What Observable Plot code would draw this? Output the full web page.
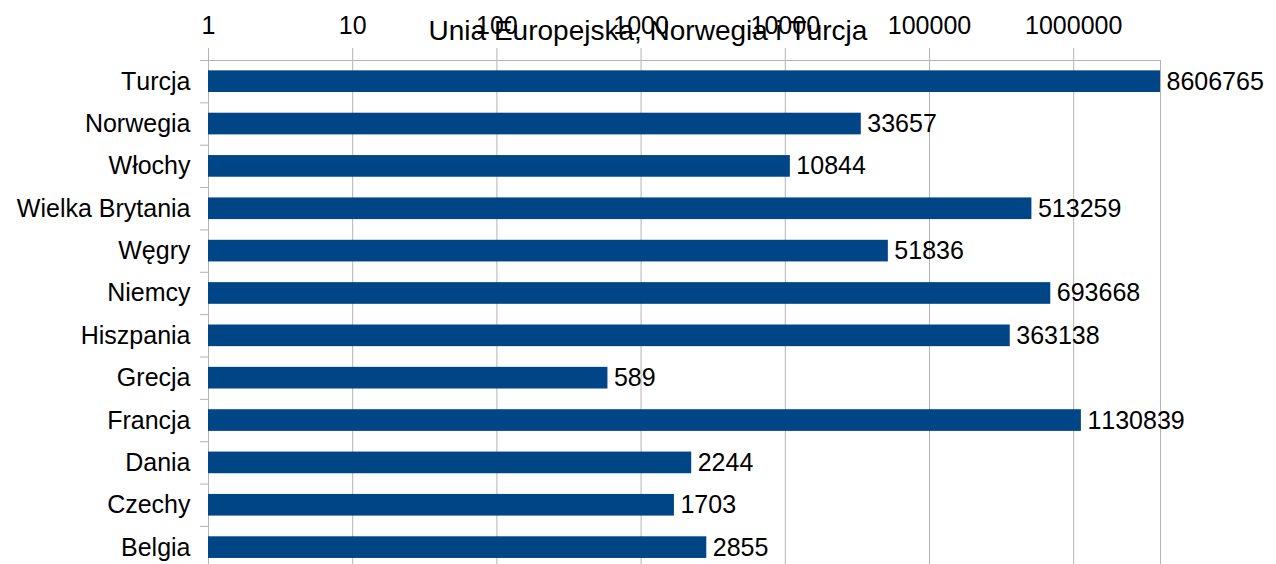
<!DOCTYPE html>
<html>
<head>
<meta charset="utf-8">
<script src="https://cdn.jsdelivr.net/npm/d3@7"></script>
<script src="https://cdn.jsdelivr.net/npm/@observablehq/plot@0.6"></script>
<style>
  html, body { margin: 0; padding: 0; background: #fff; }
  #wrap { position: relative; width: 1276px; height: 564px; overflow: hidden; font-family: "Liberation Sans", Arial, sans-serif; font-kerning: none; }
  #wrap svg text { font-kerning: none; }
  #title { position: absolute; left: 0; top: 17px; width: 1296px; text-align: center; font-size: 28px; line-height: 28px; color: #000; pointer-events: none; font-kerning: none; }
</style>
</head>
<body>
<div id="wrap">
  <div id="chart"></div>
  <div id="title">Unia Europejska, Norwegia i Turcja</div>
</div>
<script>
const categories = ["Turcja", "Norwegia", "Włochy", "Wielka Brytania", "Węgry", "Niemcy", "Hiszpania", "Grecja", "Francja", "Dania", "Czechy", "Belgia"];
const values = [8606765, 33657, 10844, 513259, 51836, 693668, 363138, 589, 1130839, 2244, 1703, 2855];
const xTicks = [1, 10, 100, 1000, 10000, 100000, 1000000];
const xMax = 4000000;

const rows = categories.map((c, i) => ({category: c, value: values[i], i}));
const boundaries = d3.range(1, categories.length);

const chart = Plot.plot({
  width: 1276,
  height: 564,
  marginLeft: 208,
  marginRight: 116,
  marginTop: 48,
  marginBottom: 0,
  style: {fontFamily: "'Liberation Sans', Arial, sans-serif", fontSize: "25px", color: "#000", background: "#fff"},
  x: {type: "log", domain: [1, xMax], clamp: true, axis: null},
  y: {type: "linear", domain: [0, categories.length], range: [60, 568.3], axis: null},
  marks: [
    Plot.ruleX(xTicks, {x: d => d, stroke: "#b3b3b3", strokeWidth: 1}),
    Plot.ruleX([xMax], {x: d => d, y1: 0, y2: categories.length, stroke: "#b3b3b3", strokeWidth: 1}),
    Plot.ruleY([0], {y: d => d, x1: 1, x2: xMax, insetLeft: -8, stroke: "#b3b3b3", strokeWidth: 1}),
    Plot.ruleY(boundaries, {y: d => d, x1: 1, x2: 1, insetLeft: -8, stroke: "#b3b3b3", strokeWidth: 1}),
    Plot.rectX(rows, {x1: 1, x2: "value", y1: d => d.i, y2: d => d.i + 1, insetTop: 10.35, insetBottom: 10.35, fill: "#004586"}),
    Plot.text(rows, {x: "value", y: d => d.i + 0.5, text: d => String(d.value), textAnchor: "start", lineAnchor: "middle", dx: 6, fill: "#000", fontSize: 25}),
    Plot.text(rows, {x: 1, y: d => d.i + 0.5, text: "category", textAnchor: "end", lineAnchor: "middle", dx: -18, fill: "#000", fontSize: 25}),
    Plot.text(xTicks, {x: d => d, frameAnchor: "top", text: d => String(d), textAnchor: "middle", lineAnchor: "middle", dy: -23, fill: "#000", fontSize: 25})
  ]
});
document.getElementById("chart").appendChild(chart);
</script>
</body>
</html>
